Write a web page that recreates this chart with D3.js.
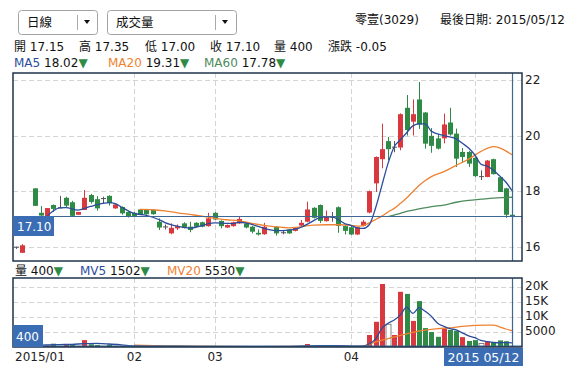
<!DOCTYPE html>
<html>
<head>
<meta charset="utf-8">
<script src="https://cdn.jsdelivr.net/npm/d3@7"></script>
<style>
body { margin: 0; background: #fff; }
svg { font-family: "DejaVu Sans", "Noto Sans CJK TC", sans-serif; font-size: 12px; }
</style>
</head>
<body>
<div id="chart"></div>
<script>
// Daily K-line, 零壹(3029), 2015/01 - 2015/05/12
// trading-day index (0 = first day of Jan on the screen), days without trades are skipped
var dayIdx = [1, 2, 4, 5, 6, 7, 8, 9, 10, 11, 12, 13, 14, 15, 16, 17, 18, 19, 20, 21, 22, 23, 24, 25, 26, 27, 28, 29, 30,
    31, 32, 33, 34, 35, 36, 37, 38, 39, 40, 41, 43, 44, 45, 46, 47, 48, 49, 50, 51, 52, 53, 54, 55, 56, 57, 58, 59, 60,
    61, 62, 63, 64, 65, 66, 67, 68, 69, 70, 71, 72, 73, 74, 75, 76, 77, 78, 79, 80, 81];

var openP = [16.00, 15.78, 18.10, 17.22, 17.10, 17.50, 17.42, 17.76, 17.60, 17.15, 17.32, 17.86, 17.71, 17.75, 17.83, 17.38,
    17.43, 17.25, 17.22, 17.34, 17.34, 17.32, 16.90, 16.73, 16.48, 16.66, 16.84, 16.72, 16.86, 16.88, 16.74, 17.22, 16.93,
    16.69, 16.74, 16.84, 16.84, 16.72, 16.50, 16.45, 16.72, 16.52, 16.62, 16.57, 16.76, 16.90, 17.40, 17.50, 16.92, 17.08,
    17.42, 16.74, 16.70, 16.44, 16.75, 17.23, 18.28, 19.15, 19.80, 19.60, 19.57, 21.00, 20.50, 21.30, 20.83, 19.99, 19.90,
    19.90, 20.47, 20.07, 19.41, 19.41, 19.20, 18.54, 18.51, 19.15, 18.50, 18.10, 17.15];

var highP = [16.00, 16.09, 18.10, 17.46, 17.39, 17.52, 17.83, 17.80, 17.65, 17.25, 18.04, 17.90, 17.82, 17.80, 17.85, 17.56,
    17.45, 17.27, 17.25, 17.36, 17.36, 17.34, 17.02, 16.80, 16.84, 16.80, 16.88, 16.90, 16.88, 16.90, 17.22, 17.24, 16.95,
    16.80, 16.90, 17.07, 16.86, 16.75, 16.62, 16.86, 16.74, 16.60, 16.64, 16.70, 16.96, 17.62, 17.42, 17.52, 17.30, 17.25,
    17.45, 16.76, 16.78, 16.72, 16.96, 18.02, 19.25, 20.43, 19.95, 19.80, 20.80, 21.46, 21.30, 21.93, 20.85, 20.27, 20.05,
    20.79, 21.00, 20.25, 19.55, 19.45, 19.22, 18.75, 19.12, 19.17, 18.52, 18.12, 17.35];

var lowP = [15.92, 15.78, 17.47, 17.10, 17.08, 17.25, 17.38, 17.42, 17.10, 17.15, 17.32, 17.55, 17.30, 17.55, 17.48, 17.36,
    17.15, 17.05, 17.08, 17.15, 17.15, 17.15, 16.60, 16.62, 16.45, 16.60, 16.66, 16.52, 16.70, 16.70, 16.72, 16.96, 16.66,
    16.67, 16.72, 16.82, 16.66, 16.48, 16.40, 16.43, 16.40, 16.45, 16.46, 16.55, 16.74, 16.88, 17.02, 16.85, 16.90, 16.90,
    16.50, 16.44, 16.42, 16.42, 16.73, 17.20, 17.97, 18.82, 19.11, 19.40, 19.47, 20.00, 20.00, 20.24, 19.53, 19.38, 19.50,
    19.72, 20.00, 18.87, 19.03, 18.87, 18.51, 18.40, 18.50, 18.60, 17.97, 17.04, 17.00];

var closeP = [16.00, 16.05, 17.47, 17.12, 17.39, 17.36, 17.42, 17.48, 17.11, 17.25, 17.76, 17.61, 17.38, 17.75, 17.57, 17.52,
    17.20, 17.08, 17.10, 17.17, 17.17, 17.17, 16.69, 16.73, 16.68, 16.74, 16.69, 16.60, 16.72, 16.72, 17.02, 16.98, 16.74,
    16.78, 16.88, 17.00, 16.69, 16.54, 16.44, 16.72, 16.48, 16.52, 16.48, 16.69, 16.86, 17.34, 17.04, 16.93, 17.07, 17.08,
    16.75, 16.57, 16.44, 16.70, 16.90, 18.00, 19.23, 19.51, 19.51, 19.60, 20.77, 20.20, 20.77, 20.40, 19.71, 19.63, 19.53,
    20.40, 20.04, 19.17, 19.23, 18.99, 18.54, 18.54, 19.10, 18.61, 17.97, 17.15, 17.10];

// volume in lots (張)
var volume = [100, 300, 1500, 400, 600, 1200, 300, 800, 1000, 300, 2400, 1000, 800, 200, 900, 400, 500, 300, 200, 300, 200,
    200, 600, 100, 300, 200, 200, 300, 200, 200, 400, 300, 300, 100, 200, 300, 200, 300, 100, 400, 300, 100, 200, 200, 300,
    1100, 500, 600, 300, 100, 500, 300, 300, 300, 400, 4100, 8500, 21100, 7700, 4100, 18500, 17800, 8800, 15400, 6400,
    5100, 3500, 6300, 5800, 5500, 3400, 2100, 2400, 1300, 1900, 1600, 2300, 2000, 400];

// moving averages: [day index, value]
var ma5 = [[6, 17.11], [8, 17.40], [9, 17.41], [11, 17.32], [13, 17.45], [15, 17.56], [16, 17.59], [17, 17.55], [18, 17.42],
    [20, 17.2], [22, 17.13], [24, 16.98], [25, 16.87], [27, 16.74], [29, 16.67], [30, 16.70], [31, 16.76], [32, 16.83],
    [33, 16.86], [35, 16.84], [36, 16.83], [37, 16.88], [38, 16.86], [39, 16.8], [41, 16.66], [43, 16.58], [45, 16.6],
    [46, 16.63], [47, 16.7], [48, 16.81], [49, 16.94], [50, 17.05], [51, 17.07], [52, 17.07], [53, 16.97], [54, 16.83],
    [55, 16.77], [56, 16.68], [57, 16.66], [58, 16.8], [59, 17.4], [60, 18.2], [61, 19.0], [62, 19.6], [63, 19.85],
    [64, 20.1], [65, 20.35], [66, 20.42], [67, 20.42], [68, 20.15], [70, 20.0], [72, 19.88], [73, 19.72], [74, 19.55],
    [75, 19.3], [76, 18.97], [77, 18.9], [78, 18.75], [79, 18.55], [80, 18.33], [81, 18.02]];

var ma20 = [[21, 17.34], [23, 17.33], [25, 17.29], [27, 17.22], [29, 17.16], [31, 17.1], [33, 17.02], [35, 16.97],
    [37, 16.93], [39, 16.84], [41, 16.77], [43, 16.71], [45, 16.68], [47, 16.72], [49, 16.78], [51, 16.79], [53, 16.79],
    [55, 16.77], [56, 16.74], [57, 16.76], [58, 16.86], [59, 16.98], [60, 17.1], [61, 17.25], [62, 17.38], [63, 17.56],
    [64, 17.75], [65, 17.98], [66, 18.2], [67, 18.38], [68, 18.52], [70, 18.7], [72, 18.93], [74, 19.15], [76, 19.43],
    [78, 19.6], [79, 19.56], [80, 19.45], [81, 19.31]];

var ma60 = [[61, 17.08], [62, 17.14], [63, 17.2], [64, 17.27], [66, 17.36], [68, 17.44], [70, 17.5], [72, 17.6],
    [74, 17.67], [76, 17.71], [78, 17.75], [80, 17.77], [81, 17.78]];

var mv5 = [[5, 700], [8, 900], [10, 1000], [12, 1200], [14, 1300], [16, 1100], [18, 800], [20, 450], [22, 300], [25, 300],
    [30, 250], [35, 250], [40, 250], [45, 250], [48, 450], [50, 550], [53, 550], [56, 400], [57, 400], [58, 1200],
    [59, 2800], [60, 6300], [61, 8000], [62, 9100], [63, 10800], [64, 13400], [65, 11300], [66, 13200], [67, 12000],
    [68, 10300], [69, 8000], [70, 7000], [71, 6200], [72, 5800], [73, 4800], [74, 3800], [75, 3200], [76, 2300],
    [77, 1900], [78, 1600], [79, 1500], [80, 1600], [81, 1502]];

var mv20 = [[20, 700], [25, 500], [30, 350], [40, 250], [50, 300], [56, 300], [57, 500], [58, 1000], [59, 1800],
    [61, 2900], [63, 4000], [65, 5000], [67, 5700], [69, 6200], [71, 6500], [73, 7000], [75, 7300], [77, 7400],
    [78, 7400], [79, 6800], [80, 6100], [81, 5530]];

// axis ticks
var priceTicks = [16, 18, 20, 22];
var volTicks = [5000, 10000, 15000, 20000];
var monthIdx = [20, 33, 55, 75];
var monthLabels = ["02", "03", "04", "05"];

var lastIdx = 81;
var lastClose = 17.10;
var lastVol = 400;

var RED = "#d9393e", GREEN = "#2f8a45", DOJI = "#555";
var C_MA5 = "#2b4c9b", C_MA20 = "#ee8232", C_MA60 = "#4d8b5c";
var C_BOX = "#3a6db3", C_CROSS = "#3d6896", C_BORDER = "#1f344c";

var W = 573, H = 376;
var main = { left: 13, right: 522, top: 73, bottom: 261 };
var vol = { left: 13, right: 522, top: 278, bottom: 347 };

var svg = d3.select("#chart").append("svg")
    .attr("width", W)
    .attr("height", H);

// Scales
var x = d3.scaleLinear().domain([0, 81]).range([10, 512]);
var y = d3.scaleLinear().domain([16, 22]).range([246.7, 80]);
var yv = d3.scaleLinear().domain([0, 20000]).range([347.3, 287.3]);

// Candle records
var candles = dayIdx.map(function(d, k) {
    return { i: d, o: openP[k], h: highP[k], l: lowP[k], c: closeP[k], v: volume[k],
        prev: k > 0 ? closeP[k - 1] : openP[k] };
});

function candleColor(d) {
    if (d.c > d.o) return RED;
    if (d.c < d.o) return GREEN;
    return DOJI;
}

// Clip paths
var defs = svg.append("defs");
defs.append("clipPath").attr("id", "clipMain").append("rect")
    .attr("x", main.left).attr("y", main.top)
    .attr("width", main.right - main.left).attr("height", main.bottom - main.top);
defs.append("clipPath").attr("id", "clipVol").append("rect")
    .attr("x", vol.left).attr("y", vol.top)
    .attr("width", vol.right - vol.left).attr("height", vol.bottom - vol.top);

// ---------- Header ----------
function dropdown(x0, w, label, sepX) {
    var g = svg.append("g");
    g.append("rect")
        .attr("x", x0 + 0.5).attr("y", 10.5)
        .attr("width", w).attr("height", 24)
        .attr("rx", 3)
        .attr("fill", "#fff")
        .attr("stroke", "#a3a3a3");
    g.append("text")
        .attr("x", x0 + 9).attr("y", 27)
        .attr("font-size", "12.5px")
        .attr("fill", "#111")
        .text(label);
    g.append("line")
        .attr("x1", sepX + 0.5).attr("x2", sepX + 0.5)
        .attr("y1", 15).attr("y2", 30)
        .attr("stroke", "#aaa");
    g.append("path")
        .attr("d", "M" + (sepX + 7) + ",20 L" + (sepX + 13) + ",20 L" + (sepX + 10) + ",24 Z")
        .attr("fill", "#111");
}
dropdown(18, 79, "日線", 77);
dropdown(107, 129, "成交量", 215);

svg.append("text")
    .attr("x", 355).attr("y", 24)
    .attr("fill", "#111")
    .text("零壹(3029)");
svg.append("text")
    .attr("x", 565).attr("y", 24)
    .attr("text-anchor", "end")
    .attr("fill", "#111")
    .text("最後日期: 2015/05/12");

var ohlcItems = [["開", "17.15", 14], ["高", "17.35", 79], ["低", "17.00", 145], ["收", "17.10", 210],
    ["量", "400", 274], ["漲跌", "-0.05", 328]];
ohlcItems.forEach(function(it) {
    svg.append("text")
        .attr("x", it[2]).attr("y", 51)
        .attr("fill", "#111")
        .text(it[0] + " " + it[1]);
});

function legendItem(x0, yBase, name, color, value) {
    var t = svg.append("text").attr("x", x0).attr("y", yBase);
    t.append("tspan").attr("fill", color).text(name + " ");
    t.append("tspan").attr("fill", "#111").text(value);
    t.append("tspan").attr("fill", GREEN).text("▼");
}
legendItem(14, 67, "MA5", C_MA5, "18.02");
legendItem(108, 67, "MA20", C_MA20, "19.31");
legendItem(204, 67, "MA60", C_MA60, "17.78");

legendItem(15, 275, "量", "#111", "400");
legendItem(80, 275, "MV5", C_MA5, "1502");
legendItem(167, 275, "MV20", C_MA20, "5530");

// ---------- Grid ----------
function grid(panel, yScale, ticks) {
    var g = svg.append("g").attr("stroke", "#d4d4d4").attr("stroke-dasharray", "5,3");
    g.selectAll(".hg").data(ticks).enter().append("line")
        .attr("x1", panel.left).attr("x2", panel.right)
        .attr("y1", function(d) { return Math.round(yScale(d)) + 0.5; })
        .attr("y2", function(d) { return Math.round(yScale(d)) + 0.5; });
    g.selectAll(".vg").data(monthIdx).enter().append("line")
        .attr("x1", function(d) { return Math.round(x(d)) + 0.5; })
        .attr("x2", function(d) { return Math.round(x(d)) + 0.5; })
        .attr("y1", panel.top).attr("y2", panel.bottom);
}
grid(main, y, priceTicks);
grid(vol, yv, volTicks);

// ---------- Candles ----------
var gMain = svg.append("g").attr("clip-path", "url(#clipMain)");

gMain.selectAll(".wick")
    .data(candles)
    .enter()
    .append("line")
    .attr("class", "wick")
    .attr("x1", function(d) { return Math.round(x(d.i)) + 0.5; })
    .attr("x2", function(d) { return Math.round(x(d.i)) + 0.5; })
    .attr("y1", function(d) { return y(d.h); })
    .attr("y2", function(d) { return y(d.l); })
    .attr("stroke", candleColor)
    .attr("stroke-width", 1);

gMain.selectAll(".body")
    .data(candles)
    .enter()
    .append("rect")
    .attr("class", "body")
    .attr("x", function(d) { return Math.round(x(d.i)) - 2; })
    .attr("y", function(d) { return y(Math.max(d.o, d.c)); })
    .attr("width", 5)
    .attr("height", function(d) { return Math.max(1, Math.abs(y(d.o) - y(d.c))); })
    .attr("fill", candleColor);

// Moving averages
var priceLine = d3.line()
    .x(function(d) { return x(d[0]); })
    .y(function(d) { return y(d[1]); })
    .curve(d3.curveMonotoneX);

[[ma60, C_MA60], [ma20, C_MA20], [ma5, C_MA5]].forEach(function(s) {
    gMain.append("path")
        .datum(s[0])
        .attr("d", priceLine)
        .attr("fill", "none")
        .attr("stroke", s[1])
        .attr("stroke-width", 1.3);
});

// ---------- Volume ----------
var gVol = svg.append("g").attr("clip-path", "url(#clipVol)");

function volColor(d) {
    if (d.c > d.prev) return RED;
    if (d.c < d.prev) return GREEN;
    return "#fff";
}

gVol.selectAll(".vbar")
    .data(candles)
    .enter()
    .append("rect")
    .attr("class", "vbar")
    .attr("x", function(d) { return Math.round(x(d.i)) - 2; })
    .attr("y", function(d) { return yv(d.v); })
    .attr("width", 5)
    .attr("height", function(d) { return yv(0) - yv(d.v); })
    .attr("fill", volColor)
    .attr("stroke", function(d) { return d.c === d.prev ? "#666" : "none"; })
    .attr("stroke-width", 0.8);

var volLine = d3.line()
    .x(function(d) { return x(d[0]); })
    .y(function(d) { return yv(d[1]); })
    .curve(d3.curveMonotoneX);

[[mv20, C_MA20], [mv5, C_MA5]].forEach(function(s) {
    gVol.append("path")
        .datum(s[0])
        .attr("d", volLine)
        .attr("fill", "none")
        .attr("stroke", s[1])
        .attr("stroke-width", 1.3);
});

// ---------- Crosshair ----------
var cx = Math.round(x(lastIdx)) + 0.5;
svg.append("line")
    .attr("x1", main.left).attr("x2", main.right)
    .attr("y1", Math.round(y(lastClose)) + 0.5).attr("y2", Math.round(y(lastClose)) + 0.5)
    .attr("stroke", C_CROSS).attr("stroke-width", 1.2);
svg.append("line")
    .attr("x1", vol.left).attr("x2", vol.right)
    .attr("y1", yv(lastVol)).attr("y2", yv(lastVol))
    .attr("stroke", C_CROSS).attr("stroke-width", 1.2);
[main, vol].forEach(function(p) {
    svg.append("line")
        .attr("x1", cx).attr("x2", cx)
        .attr("y1", p.top).attr("y2", p.bottom)
        .attr("stroke", C_CROSS).attr("stroke-width", 1.2);
});

// ---------- Borders ----------
[main, vol].forEach(function(p) {
    svg.append("rect")
        .attr("x", p.left).attr("y", p.top)
        .attr("width", p.right - p.left).attr("height", p.bottom - p.top)
        .attr("fill", "none")
        .attr("stroke", C_BORDER)
        .attr("stroke-width", 1.5);
});

// ---------- Axes ----------
var yAxis = d3.axisRight(y).tickValues(priceTicks).tickSize(0).tickPadding(3).tickFormat(d3.format("d"));
var gy = svg.append("g").attr("transform", "translate(" + main.right + ",0)").call(yAxis);
gy.select(".domain").remove();

var vAxis = d3.axisRight(yv).tickValues(volTicks).tickSize(0).tickPadding(3)
    .tickFormat(function(d) { return d < 10000 ? String(d) : (d / 1000) + "K"; });
var gv = svg.append("g").attr("transform", "translate(" + vol.right + ",-2)").call(vAxis);
gv.select(".domain").remove();

var xAxis = d3.axisBottom(x).tickValues(monthIdx.slice(0, 3)).tickSize(0).tickPadding(5)
    .tickFormat(function(d) { return monthLabels[monthIdx.indexOf(d)]; });
var gx = svg.append("g").attr("transform", "translate(0," + vol.bottom + ")").call(xAxis);
gx.select(".domain").remove();

[gy, gv, gx].forEach(function(g) {
    g.selectAll("text")
        .attr("font-family", "DejaVu Sans, sans-serif")
        .attr("font-size", "12px")
        .attr("fill", "#222");
});

svg.append("text")
    .attr("x", 15).attr("y", 361)
    .attr("fill", "#222")
    .text("2015/01");

// ---------- Value boxes ----------
var yLast = Math.round(y(lastClose));
svg.append("rect")
    .attr("x", main.left).attr("y", yLast)
    .attr("width", 41).attr("height", 20)
    .attr("fill", C_BOX);
svg.append("text")
    .attr("x", main.left + 4).attr("y", yLast + 15)
    .attr("fill", "#fff")
    .text(d3.format(".2f")(lastClose));

svg.append("rect")
    .attr("x", vol.left).attr("y", vol.bottom - 22)
    .attr("width", 30).attr("height", 22)
    .attr("fill", C_BOX);
svg.append("text")
    .attr("x", vol.left + 3).attr("y", vol.bottom - 6)
    .attr("fill", "#fff")
    .text(lastVol);

svg.append("rect")
    .attr("x", 444).attr("y", 348)
    .attr("width", 79).attr("height", 18)
    .attr("fill", C_BOX);
svg.append("text")
    .attr("x", 483.5).attr("y", 361.5)
    .attr("text-anchor", "middle")
    .attr("font-size", "12.5px")
    .attr("fill", "#fff")
    .text("2015 05/12");
</script>
</body>
</html>
